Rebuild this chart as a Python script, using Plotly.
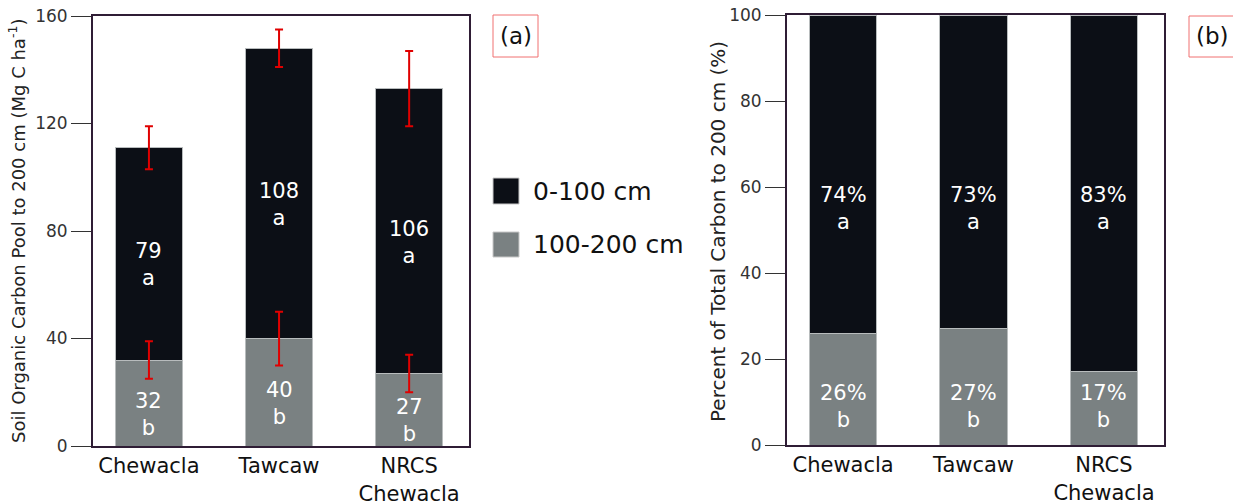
import plotly.graph_objects as go

# ---------------- data ----------------
categories = ["Chewacla", "Tawcaw", "NRCS Chewacla"]
tick_labels = ["Chewacla", "Tawcaw", "NRCS<br>Chewacla"]

pool_0_100 = [79, 108, 106]          # Mg C/ha, 0-100 cm
pool_100_200 = [32, 40, 27]          # Mg C/ha, 100-200 cm
err_0_100 = [8, 7, 14]               # error on total (top of stack)
err_100_200 = [7, 10, 7]             # error on 100-200 cm segment
letters_0_100 = ["a", "a", "a"]
letters_100_200 = ["b", "b", "b"]

pct_0_100 = [74, 73, 83]
pct_100_200 = [26, 27, 17]
pct_letters_0_100 = ["a", "a", "a"]
pct_letters_100_200 = ["b", "b", "b"]

series_names = ["0-100 cm", "100-200 cm"]

# ---------------- style ----------------
W, H = 1233, 504
FONT = "DejaVu Sans"
C_DARK = "#0c0f16"
C_GRAY = "#7a8182"
C_FRAME = "#2f1d35"
C_ERR = "#e00000"
C_EDGE = "#b8bcbd"
BAR_W = 0.515


def px(x):
    return x / W


def py(y):
    return 1 - y / H


fig = go.Figure()

# ---- panel (a) ----
fig.add_trace(go.Bar(x=categories, y=pool_100_200, width=BAR_W, marker_color=C_GRAY,
                     marker_line=dict(color=C_EDGE, width=1), xaxis="x", yaxis="y",
                     showlegend=False, hoverinfo="skip"))
fig.add_trace(go.Bar(x=categories, y=pool_0_100, width=BAR_W, marker_color=C_DARK,
                     marker_line=dict(color=C_EDGE, width=1), xaxis="x", yaxis="y",
                     showlegend=False, hoverinfo="skip"))
totals = [a + b for a, b in zip(pool_100_200, pool_0_100)]
fig.add_trace(go.Scatter(x=categories, y=pool_100_200, mode="markers",
                         marker=dict(size=1, opacity=0), xaxis="x", yaxis="y",
                         error_y=dict(type="data", array=err_100_200, color=C_ERR,
                                      thickness=2, width=4),
                         showlegend=False, hoverinfo="skip"))
fig.add_trace(go.Scatter(x=categories, y=totals, mode="markers",
                         marker=dict(size=1, opacity=0), xaxis="x", yaxis="y",
                         error_y=dict(type="data", array=err_0_100, color=C_ERR,
                                      thickness=2, width=4),
                         showlegend=False, hoverinfo="skip"))

# ---- panel (b) ----
fig.add_trace(go.Bar(x=categories, y=pct_100_200, width=BAR_W, marker_color=C_GRAY,
                     marker_line=dict(color=C_EDGE, width=1), xaxis="x2", yaxis="y2",
                     showlegend=False, hoverinfo="skip"))
fig.add_trace(go.Bar(x=categories, y=pct_0_100, width=BAR_W, marker_color=C_DARK,
                     marker_line=dict(color=C_EDGE, width=1), xaxis="x2", yaxis="y2",
                     showlegend=False, hoverinfo="skip"))

annotations = []
LBL = dict(showarrow=False, font=dict(family=FONT, size=21, color="white"))

for c, lo, hi, l_lo, l_hi in zip(categories, pool_100_200, pool_0_100,
                                  letters_100_200, letters_0_100):
    annotations.append(dict(x=c, y=lo / 2, xref="x", yref="y", yshift=-11,
                            text=f"{lo}<br>{l_lo}", **LBL))
    annotations.append(dict(x=c, y=lo + hi / 2, xref="x", yref="y", yshift=-11,
                            text=f"{hi}<br>{l_hi}", **LBL))

PCT_LABEL_Y_LOW, PCT_LABEL_Y_HIGH = 9, 55
for c, lo, hi, l_lo, l_hi in zip(categories, pct_100_200, pct_0_100,
                                  pct_letters_100_200, pct_letters_0_100):
    annotations.append(dict(x=c, y=PCT_LABEL_Y_LOW, xref="x2", yref="y2",
                            text=f"{lo}%<br>{l_lo}", **LBL))
    annotations.append(dict(x=c, y=PCT_LABEL_Y_HIGH, xref="x2", yref="y2",
                            text=f"{hi}%<br>{l_hi}", **LBL))

# axis titles
annotations.append(dict(x=px(17), y=py(231), xref="paper", yref="paper", textangle=-90,
                        showarrow=False, xanchor="center", yanchor="middle",
                        text="Soil Organic Carbon Pool to 200 cm (Mg C ha<sup>-1</sup>)",
                        font=dict(family=FONT, size=18, color="#222")))
annotations.append(dict(x=px(718), y=py(232), xref="paper", yref="paper", textangle=-90,
                        showarrow=False, xanchor="center", yanchor="middle",
                        text="Percent of Total Carbon to 200 cm (%)",
                        font=dict(family=FONT, size=20, color="#222")))

# legend (manual)
shapes = []
leg_colors = [C_DARK, C_GRAY]
leg_rows = [(178, 204), (232, 257)]
for name, col, (y0, y1) in zip(series_names, leg_colors, leg_rows):
    shapes.append(dict(type="rect", xref="paper", yref="paper", x0=px(493), x1=px(519),
                       y0=py(y1), y1=py(y0), fillcolor=col,
                       line=dict(color="#c8c8c8", width=1)))
    annotations.append(dict(x=px(531), y=py((y0 + y1) / 2), xref="paper", yref="paper",
                            xanchor="left", yanchor="middle", showarrow=False, text=name,
                            font=dict(family=FONT, size=25, color="#111")))

# panel labels
for lab, x0, x1, y0, y1 in [("(a)", 493, 538, 15, 57), ("(b)", 1189, 1240, 16, 57)]:
    shapes.append(dict(type="rect", xref="paper", yref="paper", x0=px(x0), x1=px(x1),
                       y0=py(y1), y1=py(y0), fillcolor="rgba(0,0,0,0)",
                       line=dict(color="#f07070", width=1)))
    annotations.append(dict(x=px(x0 + 5), y=py((y0 + y1) / 2), xref="paper", yref="paper",
                            xanchor="left", yanchor="middle", showarrow=False, text=lab,
                            font=dict(family=FONT, size=23, color="#111")))

xcommon = dict(tickvals=categories, ticktext=tick_labels, range=[-0.43, 2.46],
               showline=True, linecolor=C_FRAME, linewidth=2, mirror=True, ticks="",
               showgrid=False, zeroline=False, automargin=False,
               tickfont=dict(family=FONT, size=21, color="#111"), fixedrange=True)
ycommon = dict(showline=True, linecolor=C_FRAME, linewidth=2, mirror=True, ticks="outside",
               ticklen=20, tickwidth=1, tickcolor="#333", showgrid=False, zeroline=False,
               automargin=False,
               tickfont=dict(family=FONT, size=17, color="#333"), fixedrange=True)

fig.update_layout(
    width=W, height=H,
    margin=dict(l=0, r=0, t=0, b=0, pad=0),
    paper_bgcolor="white", plot_bgcolor="white",
    barmode="stack",
    showlegend=False,
    xaxis=dict(domain=[px(93), px(469)], anchor="y", **xcommon),
    yaxis=dict(domain=[py(446), py(16)], anchor="x", range=[0, 160],
               tickvals=[0, 40, 80, 120, 160], **ycommon),
    xaxis2=dict(domain=[px(787), px(1164)], anchor="y2", **xcommon),
    yaxis2=dict(domain=[py(445), py(15)], anchor="x2", range=[0, 100],
                tickvals=[0, 20, 40, 60, 80, 100], **ycommon),
    annotations=annotations,
    shapes=shapes,
    font=dict(family=FONT),
)

fig.write_html("out.html",
               config={"displayModeBar": False},
               post_script="document.body.style.margin='0px';"
                           "document.body.style.overflow='hidden';")
